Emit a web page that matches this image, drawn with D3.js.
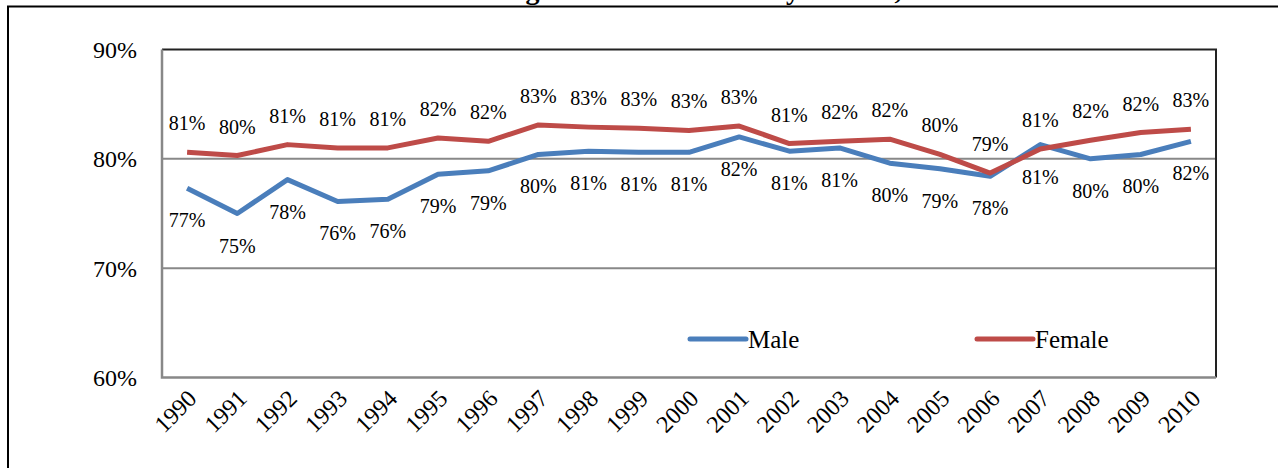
<!DOCTYPE html>
<meta charset="utf-8">

<head>
  <title>retention-by-gender</title>
</head>

<style>
  body {
    margin: 0;
    background: #fff;
  }

  text {
    font-family: "Liberation Serif", "Times New Roman", serif;
    fill: #000;
  }
</style>

<body>
  <svg width="1278" height="468"></svg>

  <script src="https://cdnjs.cloudflare.com/ajax/libs/d3/7.8.5/d3.min.js"></script>
  <script>
    var years = ['1990', '1991', '1992', '1993', '1994', '1995', '1996', '1997', '1998', '1999', '2000',
      '2001', '2002', '2003', '2004', '2005', '2006', '2007', '2008', '2009', '2010']

    var male = [0.773, 0.750, 0.781, 0.761, 0.763, 0.786, 0.789, 0.804, 0.807, 0.806, 0.806,
      0.820, 0.807, 0.810, 0.796, 0.791, 0.784, 0.813, 0.800, 0.804, 0.816]

    var female = [0.806, 0.803, 0.813, 0.810, 0.810, 0.819, 0.816, 0.831, 0.829, 0.828, 0.826,
      0.830, 0.814, 0.816, 0.818, 0.804, 0.787, 0.809, 0.817, 0.824, 0.827]

    var yTicks = [0.6, 0.7, 0.8, 0.9]

    var title = 'Four-Year Public Colleges and Universities by Gender, 1990-2010'

    var svg = d3.select('svg')

    // chart frame (only its top and left edges fall inside the view)
    svg.append('path')
      .attr('d', 'M8,470 V6.5 H1280')
      .attr('fill', 'none')
      .attr('stroke', '#000')
      .attr('stroke-width', 2)

    // title, mostly cropped off above the frame
    svg.append('text')
      .attr('x', 640)
      .attr('y', -1)
      .attr('text-anchor', 'middle')
      .style('font-size', '28px')
      .style('font-weight', 'bold')
      .text(title)

    var plotLeft = 162,
      plotRight = 1216,
      plotTop = 49.5,
      plotBottom = 377.5

    var x = d3.scaleBand().domain(years).range([plotLeft, plotRight])
    var y = d3.scaleLinear().domain([0.6, 0.9]).range([plotBottom, plotTop])
    var pct = d3.format('.0%')

    // gridlines
    svg.append('g')
      .selectAll('line')
      .data([0.7, 0.8])
      .enter()
      .append('line')
      .attr('x1', plotLeft)
      .attr('x2', plotRight)
      .attr('y1', function(d) { return y(d) })
      .attr('y2', function(d) { return y(d) })
      .attr('stroke', '#888')
      .attr('stroke-width', 2)

    // plot border: dark top/right, grey axes left/bottom
    svg.append('path')
      .attr('d', 'M' + plotLeft + ',' + plotTop + ' H' + plotRight + ' V' + plotBottom)
      .attr('fill', 'none')
      .attr('stroke', '#222')
      .attr('stroke-width', 2)

    svg.append('path')
      .attr('d', 'M' + plotLeft + ',' + plotTop + ' V' + plotBottom + ' H' + plotRight)
      .attr('fill', 'none')
      .attr('stroke', '#888')
      .attr('stroke-width', 2.5)

    // y axis labels
    svg.append('g')
      .selectAll('text')
      .data(yTicks)
      .enter()
      .append('text')
      .attr('x', 137)
      .attr('y', function(d) { return y(d) })
      .attr('dy', '0.35em')
      .attr('text-anchor', 'end')
      .style('font-size', '24px')
      .text(pct)

    // x axis labels, rotated
    svg.append('g')
      .selectAll('text')
      .data(years)
      .enter()
      .append('text')
      .attr('transform', function(d) {
        return 'translate(' + (x(d) + x.bandwidth() / 2 + 11) + ',' + 400 + ') rotate(-45)'
      })
      .attr('text-anchor', 'end')
      .style('font-size', '24px')
      .text(function(d) { return d })

    var line = d3.line()
      .x(function(d, i) { return x(years[i]) + x.bandwidth() / 2 })
      .y(function(d) { return y(d) })

    var series = [
      { name: 'Male', values: male, color: '#4A7EBB', dy: 39 },
      { name: 'Female', values: female, color: '#BE4B48', dy: -22 }
    ]

    series.forEach(function(s) {
      svg.append('path')
        .datum(s.values)
        .attr('d', line)
        .attr('fill', 'none')
        .attr('stroke', s.color)
        .attr('stroke-width', 5)
        .attr('stroke-linejoin', 'round')

      svg.append('g')
        .selectAll('text')
        .data(s.values)
        .enter()
        .append('text')
        .attr('x', function(d, i) { return x(years[i]) + x.bandwidth() / 2 })
        .attr('y', function(d) { return y(d) + s.dy })
        .attr('text-anchor', 'middle')
        .style('font-size', '20px')
        .text(pct)
    })

    // legend
    var legend = svg.append('g')
      .selectAll('g')
      .data(series)
      .enter()
      .append('g')
      .attr('transform', function(d, i) { return 'translate(' + (690 + i * 287) + ',339)' })

    legend.append('line')
      .attr('x1', 0)
      .attr('x2', 56)
      .attr('stroke', function(d) { return d.color })
      .attr('stroke-width', 5)
      .attr('stroke-linecap', 'round')

    legend.append('text')
      .attr('x', 58)
      .attr('dy', '0.35em')
      .style('font-size', '25px')
      .text(function(d) { return d.name })
  </script>
</body>

</html>
